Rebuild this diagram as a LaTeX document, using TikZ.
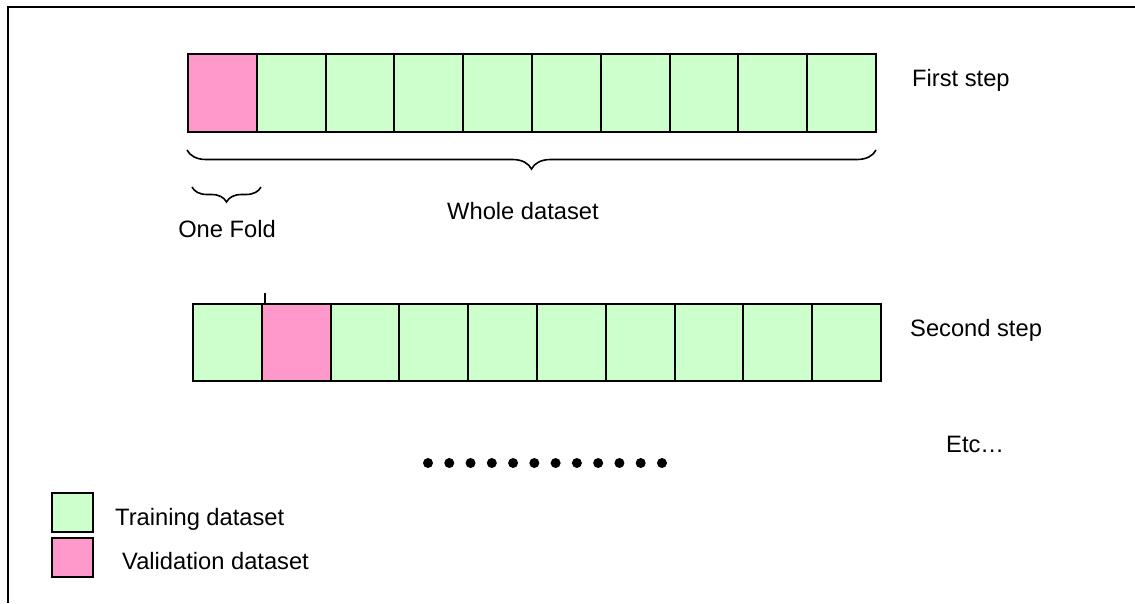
\documentclass[tikz,border=0pt]{standalone}
\usepackage{fontspec}
\setmainfont{Liberation Sans}
\usetikzlibrary{decorations.pathreplacing}
\definecolor{trainc}{HTML}{CCFFCC}
\definecolor{validc}{HTML}{FF99CC}
\tikzset{
  cell/.style={draw=black, line width=2pt, rectangle, inner sep=0pt, anchor=north west,
    minimum width=68.8pt},
  tr/.style={cell, fill=trainc},
  va/.style={cell, fill=validc},
  lab/.style={anchor=base west, inner sep=0pt, font=\fontsize{23.7}{28}\selectfont},
  bracestyle/.style={draw=black, line width=1.6pt, decorate},
  dotmark/.style={fill=black, draw=none}
}
\begin{document}
\begin{tikzpicture}[x=1pt,y=-1pt]
\useasboundingbox (0,0) rectangle (1135,603);
\fill[white] (0,0) rectangle (1135,603);
% frame
\draw[line width=2pt] (1135,7) -- (8,7) -- (8,603);
% first row
\foreach \i in {0,...,9}{
  \pgfmathsetmacro{\xx}{187+68.8*\i}
  \ifnum\i=0
    \node[va, minimum height=78pt] (r1c\i) at (\xx,53) {};
  \else
    \node[tr, minimum height=78pt] (r1c\i) at (\xx,53) {};
  \fi
}
% second row
\foreach \i in {0,...,9}{
  \pgfmathsetmacro{\xx}{192+68.8*\i}
  \ifnum\i=1
    \node[va, minimum height=77pt] (r2c\i) at (\xx,303) {};
  \else
    \node[tr, minimum height=77pt] (r2c\i) at (\xx,303) {};
  \fi
}
\coordinate (tick) at (265,293);
\draw[line width=1.6pt] (tick) -- (tick |- r2c1.north);
% braces
\coordinate (bigL) at (187,150);
\coordinate (bigR) at (876,150);
\draw[bracestyle, decoration={brace, mirror, amplitude=19pt}] (bigL) -- (bigR);
\coordinate (smL) at (192,187);
\coordinate (smR) at (261,187);
\draw[bracestyle, decoration={brace, mirror, amplitude=15pt}] (smL) -- (smR);
% labels
\node[lab] (first) at (912,86) {First step};
\node[lab] (second) at (910,336) {Second step};
\node[lab] (etc) at (946,452) {Etc…};
\node[lab, anchor=base] (onefold) at (227,237) {One Fold};
\node[lab] (whole) at (447,219) {Whole dataset};
% dots
\foreach \i in {0,...,11}{
  \fill[dotmark] ({428+21.27*\i},463) circle (5pt);
}
% legend
\node[cell, fill=trainc, minimum width=41pt, minimum height=39pt] (legtr) at (51,492) {};
\node[cell, fill=validc, minimum width=41pt, minimum height=39pt] (legva) at (51,537) {};
\node[lab] (legtrl) at (115,525) {Training dataset};
\node[lab] (legval) at (122,569) {Validation dataset};
\end{tikzpicture}
\end{document}
